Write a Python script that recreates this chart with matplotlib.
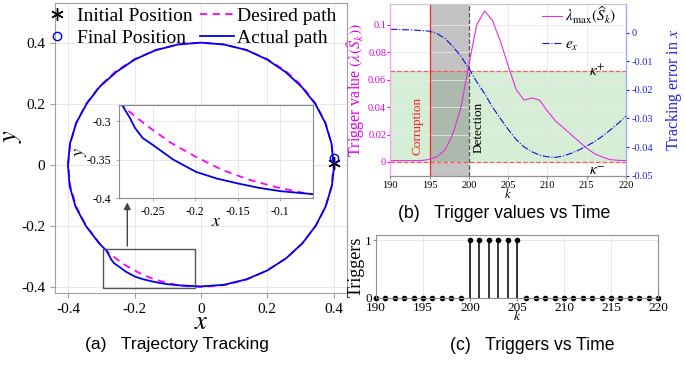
import matplotlib.pyplot as plt
from matplotlib.patches import Rectangle

plt.rcParams['font.family'] = 'Liberation Serif'
plt.rcParams['mathtext.fontset'] = 'stix'
plt.rcParams['axes.unicode_minus'] = False

# ---- (a) trajectory tracking
desired_x = [0.400, 0.394, 0.376, 0.346, 0.306, 0.257, 0.200, 0.137, 0.069, 0.000,
             -0.069, -0.137, -0.200, -0.257, -0.306, -0.346, -0.376, -0.394, -0.400,
             -0.394, -0.376, -0.346, -0.306, -0.283, -0.257, -0.229, -0.200, -0.169,
             -0.137, -0.104, -0.069, -0.035, 0.000, 0.069, 0.137, 0.200, 0.257, 0.306,
             0.346, 0.376, 0.394, 0.400]
desired_y = [0.000, 0.069, 0.137, 0.200, 0.257, 0.306, 0.346, 0.376, 0.394, 0.400,
             0.394, 0.376, 0.346, 0.306, 0.257, 0.200, 0.137, 0.069, 0.000,
             -0.069, -0.137, -0.200, -0.257, -0.283, -0.306, -0.328, -0.346, -0.363,
             -0.376, -0.386, -0.394, -0.398, -0.400, -0.394, -0.376, -0.346, -0.306, -0.257,
             -0.200, -0.137, -0.069, 0.000]

actual_x = [0.400, 0.394, 0.375, 0.345, 0.304, 0.255, 0.199, 0.137, 0.069, 0.000,
            -0.069, -0.137, -0.199, -0.255, -0.305, -0.345, -0.376, -0.395, -0.401,
            -0.396, -0.378, -0.347, -0.307, -0.2855, -0.277, -0.271, -0.262, -0.250,
            -0.226, -0.199, -0.175, -0.150, -0.125, -0.100, -0.061, 0.000, 0.069,
            0.137, 0.200, 0.257, 0.306, 0.346, 0.376, 0.395, 0.402, 0.400]
actual_y = [0.000, 0.069, 0.137, 0.199, 0.255, 0.304, 0.345, 0.376, 0.394, 0.400,
            0.394, 0.375, 0.345, 0.304, 0.256, 0.199, 0.137, 0.069, 0.000,
            -0.069, -0.137, -0.200, -0.257, -0.2805, -0.296, -0.309, -0.322, -0.331,
            -0.350, -0.366, -0.3745, -0.381, -0.3867, -0.391, -0.395, -0.398, -0.393,
            -0.375, -0.346, -0.306, -0.257, -0.200, -0.137, -0.069, 0.000, 0.022]

initial_pos = (0.400, 0.005)
final_pos = (0.400, 0.022)
zoom_x = (-0.294, -0.019)
zoom_y = (-0.403, -0.275)

# ---- (b) trigger values and tracking error
k = list(range(190, 221))
lam_max = [0.001, 0.001, 0.001, 0.001, 0.001, 0.002, 0.004, 0.009, 0.021, 0.040,
           0.071, 0.100, 0.110, 0.103, 0.088, 0.070, 0.053, 0.045, 0.0466, 0.045,
           0.037, 0.030, 0.025, 0.020, 0.015, 0.010, 0.006, 0.0036, 0.0017, 0.0012,
           0.001]
e_x = [0.0012, 0.0011, 0.0010, 0.0009, 0.0007, 0.0005, -0.0004, -0.0021, -0.0050, -0.0083,
       -0.0126, -0.0172, -0.0213, -0.0260, -0.0300, -0.0338, -0.0373, -0.0399, -0.0416,
       -0.0428, -0.0434, -0.0436, -0.0431, -0.0422, -0.0410, -0.0396, -0.0381, -0.0362,
       -0.0340, -0.0317, -0.0292]
kappa_plus = 0.066
kappa_minus = 0.0
k_corrupt = 195
k_detect = 200

# ---- (c) triggers
triggers = [0] * 10 + [1] * 6 + [0] * 15

fig = plt.figure(figsize=(6.85, 3.65), dpi=100)

# ================= (a)
ax = fig.add_axes([0.0803, 0.197, 0.426, 0.795])
ax.plot(desired_x, desired_y, color='#ff00ff', ls='--', lw=1.3, dashes=(4, 3), label='Desired path')
ax.plot(actual_x, actual_y, color='#0000ee', lw=1.3, label='Actual path')
ax.plot(*initial_pos, marker=(6, 2, 0), color='black', ms=9, mew=1, ls='none', label='Initial Position')
ax.plot(*final_pos, marker='o', mfc='none', mec='#0000ee', ms=6, mew=1, ls='none', label='Final Position')
ax.add_patch(Rectangle((zoom_x[0], zoom_y[0]), zoom_x[1] - zoom_x[0], zoom_y[1] - zoom_y[0],
                       fill=False, ec='#555555', lw=1, zorder=5))
ax.annotate('', xy=(-0.222, -0.114), xytext=(-0.222, zoom_y[1]),
            arrowprops=dict(arrowstyle='-|>', color='#444444', lw=1, mutation_scale=10))
ax.set_xlim(-0.44, 0.44)
ax.set_ylim(-0.42, 0.53)
ax.set_xticks([-0.4, -0.2, 0, 0.2, 0.4])
ax.set_xticklabels(['-0.4', '-0.2', '0', '0.2', '0.4'])
ax.set_yticks([-0.4, -0.2, 0, 0.2, 0.4])
ax.set_yticklabels(['-0.4', '-0.2', '0', '0.2', '0.4'])
ax.tick_params(labelsize=11, length=3.5, color='#888888', width=0.6)
ax.grid(True, color='#e4e4e4', lw=0.6)
for s in ax.spines.values():
    s.set_color('#a0a0a0')
ax.set_xlabel(r'$x$', fontsize=19, labelpad=-3)
ax.set_ylabel(r'$y$', fontsize=19)
ax.yaxis.set_label_coords(-0.105, 0.54)

hs, ls_ = ax.get_legend_handles_labels()
order = [2, 3, 0, 1]
fig.legend([hs[i] for i in order], [ls_[i] for i in order], ncol=2, frameon=False,
           loc='upper left', bbox_to_anchor=(40 / 685, 1 - 7 / 365), fontsize=14,
           handlelength=1.75, handletextpad=0.15, columnspacing=0.4, labelspacing=0.25,
           borderpad=0, borderaxespad=0)

# inset
axi = fig.add_axes([0.1737, 0.4575, 0.2832, 0.2548])
axi.plot(desired_x, desired_y, color='#ff00ff', ls='--', lw=1.3, dashes=(4, 3))
axi.plot(actual_x, actual_y, color='#0000ee', lw=1.3)
axi.set_xlim(-0.29, -0.061)
axi.set_ylim(-0.4, -0.279)
axi.set_xticks([-0.25, -0.2, -0.15, -0.1])
axi.set_xticklabels(['-0.25', '-0.2', '-0.15', '-0.1'])
axi.set_yticks([-0.4, -0.35, -0.3])
axi.set_yticklabels(['-0.4', '-0.35', '-0.3'])
axi.tick_params(labelsize=8.5, length=2, color='#888888', width=0.5)
axi.grid(True, color='#e4e4e4', lw=0.6)
for s in axi.spines.values():
    s.set_color('#888888')
axi.set_xlabel(r'$x$', fontsize=13, labelpad=-3)
axi.set_ylabel(r'$y$', fontsize=13, labelpad=-2)

fig.text(85 / 685, 1 - 345 / 365, '(a)   Trajectory Tracking', family='Liberation Sans',
         fontsize=12.6, ha='left', va='center')

# ================= (b)
axb = fig.add_axes([0.5698, 0.5186, 0.3441, 0.4704])
axb.axhspan(kappa_minus, kappa_plus, color='#d6edd6', lw=0, zorder=0)
axb.axvspan(k_corrupt, k_detect, color='#7a7a7a', alpha=0.45, lw=0, zorder=1)
axb.axhline(kappa_plus, color='#ff5a5a', ls='--', lw=0.9, zorder=2)
axb.axhline(kappa_minus, color='#ff5a5a', ls='--', lw=0.9, zorder=2)
axb.axvline(k_corrupt, color='#ff2020', lw=0.9, zorder=2)
axb.axvline(k_detect, color='#555555', ls='--', lw=0.9, zorder=2)
lam_line, = axb.plot(k, lam_max, color='#e030e0', lw=0.8, zorder=3, label=r'$\lambda_{\max}(\widehat{S}_k)$')
axb.set_xlim(190, 220)
axb.set_ylim(-0.01, 0.115)
axb.set_xticks(range(190, 221, 5))
axb.set_yticks([0, 0.02, 0.04, 0.06, 0.08, 0.1])
axb.set_yticklabels(['0', '0.02', '0.04', '0.06', '0.08', '0.1'])
axb.tick_params(axis='x', labelsize=7.5, length=2, color='#888888', pad=2)
axb.tick_params(axis='y', labelsize=7.5, length=2, colors='#e000e0', pad=1)
axb.grid(True, color='#e8e8e8', lw=0.6)
axb.set_xlabel(r'$k$', fontsize=9, labelpad=-2)
axb.set_ylabel(r'Trigger value $(\lambda(\widehat{S}_k))$', color='#e000e0', fontsize=11.5, labelpad=1)
axb.text(193.5, 0.005, 'Corruption', rotation=90, color='#ff2020', fontsize=9.5,
         ha='center', va='bottom')
axb.text(201.2, 0.0065, 'Detection', rotation=90, color='black', fontsize=9.5,
         ha='center', va='bottom')
axb.text(216.3, kappa_plus, r'$\kappa^{+}$', fontsize=11, ha='center', va='center')
axb.text(216.3, -0.0065, r'$\kappa^{-}$', fontsize=11, ha='center', va='center')

axr = axb.twinx()
e_line, = axr.plot(k, e_x, color='#1010e0', ls='-.', lw=0.8, label=r'$e_x$')
axr.set_ylim(-0.05, 0.01)
axr.set_yticks([-0.05, -0.04, -0.03, -0.02, -0.01, 0])
axr.set_yticklabels(['-0.05', '-0.04', '-0.03', '-0.02', '-0.01', '0'])
axr.tick_params(axis='y', labelsize=7.5, length=2, colors='#2020e0', pad=2)
axr.set_ylabel(r'Tracking error in $x$', color='#2020e0', fontsize=11.5, labelpad=8)
for a in (axb, axr):
    a.spines['top'].set_color('#c8c8c8')
    a.spines['bottom'].set_color('#909090')
    a.spines['left'].set_color('#f0a0f0')
    a.spines['right'].set_color('#a0a0ff')
axr.legend([lam_line, e_line], [lam_line.get_label(), e_line.get_label()], frameon=False,
           loc='upper left', bbox_to_anchor=(542 / 685, 1 - 5 / 365), bbox_transform=fig.transFigure,
           fontsize=11, handlelength=1.3, handletextpad=0.2, labelspacing=0.75,
           borderpad=0, borderaxespad=0)

fig.text(398 / 685, 1 - 214 / 365, '(b)   Trigger values vs Time', family='Liberation Sans',
         fontsize=12.7, ha='left', va='center')

# ================= (c)
axc = fig.add_axes([0.5489, 0.1836, 0.4117, 0.1726])
ml, sl, bl = axc.stem(k, triggers, linefmt='k-', markerfmt='ko', basefmt=' ')
ml.set_markersize(3)
ml.set_clip_on(False)
sl.set_linewidth(1.1)
axc.set_xlim(190, 220)
axc.set_ylim(0, 1.09)
axc.set_xticks(range(190, 221, 5))
axc.set_yticks([0, 1])
axc.tick_params(labelsize=9.5, length=2, color='#888888', pad=1)
axc.grid(True, color='#e4e4e4', lw=0.6)
for s in axc.spines.values():
    s.set_color('#909090')
axc.set_xlabel(r'$k$', fontsize=10, labelpad=-4)
axc.set_ylabel('Triggers', fontsize=13, labelpad=0)

fig.text(450 / 685, 1 - 346 / 365, '(c)   Triggers vs Time', family='Liberation Sans',
         fontsize=12.7, ha='left', va='center')

fig.savefig('out.png', dpi=100)
